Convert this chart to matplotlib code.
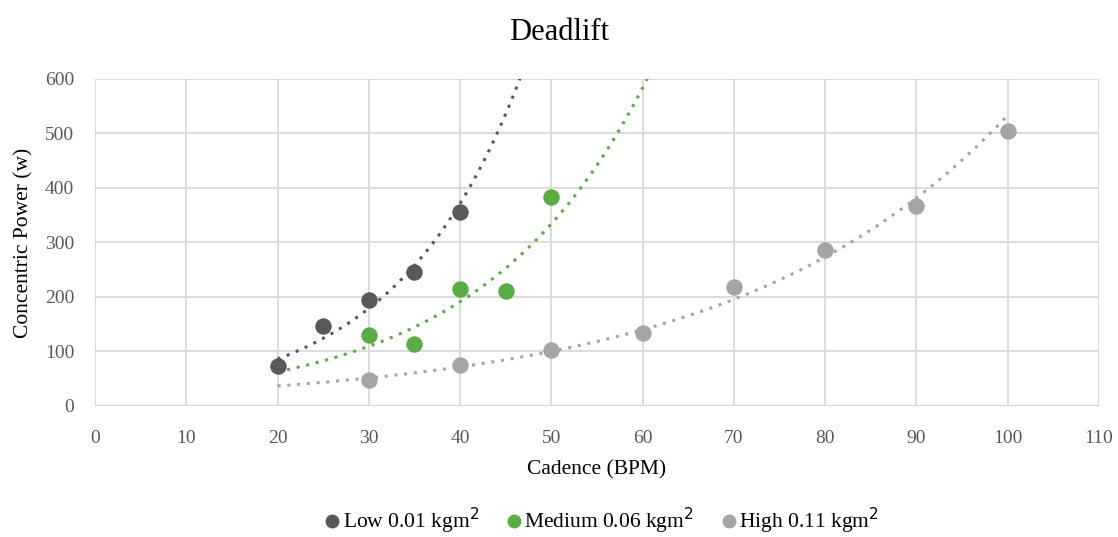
import numpy as np
import matplotlib
matplotlib.use('Agg')
import matplotlib.pyplot as plt
from matplotlib.lines import Line2D

plt.rcParams['font.family'] = ['Liberation Serif', 'DejaVu Serif']

# data
low_x = [20, 25, 30, 35, 40]
low_y = [74, 146, 194, 246, 355]
med_x = [30, 35, 40, 45, 50]
med_y = [130, 113, 215, 211, 384]
high_x = [30, 40, 50, 60, 70, 80, 90, 100]
high_y = [47, 76, 102, 133, 219, 286, 367, 505]

series = [
    ('Low 0.01 kgm$^2$', low_x, low_y, '#595959', 48),
    ('Medium 0.06 kgm$^2$', med_x, med_y, '#5AAD45', 62),
    ('High 0.11 kgm$^2$', high_x, high_y, '#A5A5A5', 100),
]

fig = plt.figure(figsize=(11.18, 5.37), dpi=100)
ax = fig.add_axes([0.085, 0.244, 0.898, 0.609])

handles = []
for label, xs, ys, col, xend in series:
    # exponential trendline like Excel
    b, a = np.polyfit(xs, np.log(ys), 1)
    tx = np.linspace(20, xend, 200)
    ax.plot(tx, np.exp(a + b * tx), ls=(0, (1, 2.2)), lw=2.2, color=col, zorder=2)
    ax.scatter(xs, ys, s=140, color=col, zorder=3, linewidths=0)
    handles.append(Line2D([], [], marker='o', ls='none', color=col, markersize=9, label=label))

ax.set_xlim(0, 110)
ax.set_ylim(0, 600)
ax.set_xticks(range(0, 111, 10))
ax.set_yticks(range(0, 601, 100))
ax.grid(True, color='#D9D9D9', lw=1.3)
ax.set_axisbelow(True)
for s in ax.spines.values():
    s.set_visible(False)
ax.axhline(0, color='#D0D0D0', lw=1.5, zorder=1)
ax.tick_params(length=0, labelsize=14, colors='#595959')
ax.tick_params(axis='x', pad=17)
ax.tick_params(axis='y', pad=15)

ax.set_xlabel('Cadence (BPM)', fontsize=15.5, labelpad=10)
ax.set_ylabel('Concentric Power (w)', fontsize=15.5, labelpad=8)
fig.text(0.5, 0.94, 'Deadlift', ha='center', va='center', fontsize=22)

fig.legend(handles=handles, loc='center', bbox_to_anchor=(0.537, 0.03), ncol=3,
           frameon=False, fontsize=15.5, handletextpad=0.0, columnspacing=1.1,
           handlelength=1.0)

fig.savefig('out.png', dpi=100)
